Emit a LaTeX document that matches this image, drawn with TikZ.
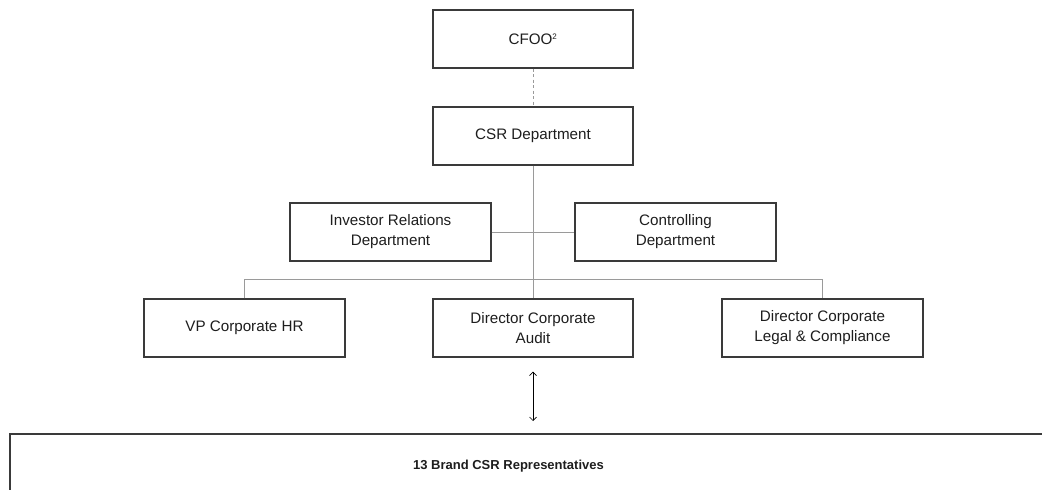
\documentclass[tikz,border=0pt]{standalone}
\usepackage{fontspec}
\setmainfont{Liberation Sans}
\usetikzlibrary{arrows.meta}
\definecolor{boxline}{HTML}{3A3A3A}
\definecolor{conn}{HTML}{9A9A9A}
\definecolor{txt}{HTML}{1E1E1E}
\tikzset{
  orgbox/.style={draw=boxline, line width=1.1pt, minimum width=200pt, minimum height=58pt,
    align=center, text=txt, font=\fontsize{15.2}{20}\selectfont, inner sep=2pt},
  conline/.style={draw=conn, line width=1pt},
  dashline/.style={draw=conn, line width=0.9pt, dash pattern=on 3pt off 2.5pt},
  bothways/.style={draw=black, line width=0.7pt, {Straight Barb[length=3.5pt,width=7pt]}-{Straight Barb[length=3.5pt,width=7pt]}}
}
\begin{document}
\begin{tikzpicture}[x=1pt,y=-1pt]
\useasboundingbox (0,0) rectangle (1042,490);
\clip (0,0) rectangle (1042,490);
\fill[white] (0,0) rectangle (1042,490);
\node[orgbox] (cfoo) at (533,39) {CFOO\textsuperscript{\fontsize{8}{8}\selectfont 2}};
\node[orgbox] (csr) at (533,136) {CSR Department};
\node[orgbox, minimum width=201pt] (ir) at (390.5,232) {Investor Relations\\Department};
\node[orgbox, minimum width=201pt] (ctrl) at (675.5,232) {Controlling\\Department};
\node[orgbox, minimum width=201pt] (vp) at (244.5,328) {VP Corporate HR};
\node[orgbox] (audit) at (533,328) {Director Corporate\\Audit};
\node[orgbox, minimum width=201pt] (legal) at (822.5,328) {Director Corporate\\Legal \& Compliance};
% bottom box (extends beyond the picture)
\draw[boxline, line width=1.1pt] (10,520) -- (10,434) -- (1080,434);
\coordinate (reptop) at (533,434);
\node[text=txt, font=\bfseries\fontsize{13}{15}\selectfont] (rep) at (508.5,466) {13 Brand CSR Representatives};
% connectors
\draw[dashline] (cfoo.south) -- (csr.north);
\draw[conline] (csr.south) -- (audit.north);
\draw[conline] (ir.east) -- (ctrl.west);
\draw[conline] (vp.north) -- ++(0,-19) -| (legal.north);
\draw[bothways, shorten <=14pt, shorten >=13pt] (audit.south) -- (reptop);
\end{tikzpicture}
\end{document}
